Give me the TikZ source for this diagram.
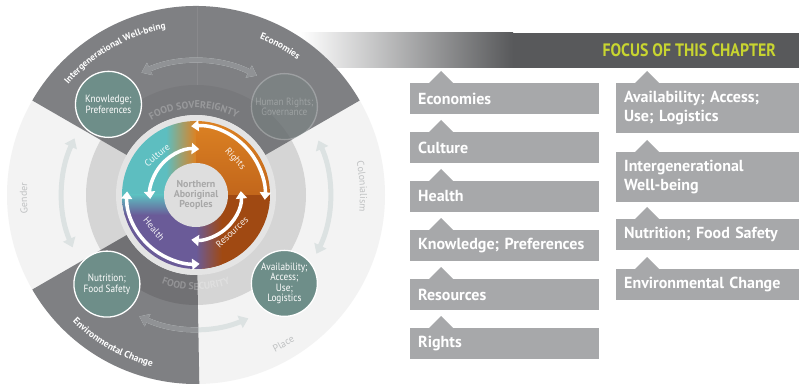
\documentclass[tikz,border=0pt]{standalone}
\usepackage{fontspec}
\setmainfont{PT Sans}
\newfontfamily\condfont[FakeStretch=0.88]{PT Sans}
\usetikzlibrary{arrows.meta,decorations.text}
\definecolor{darkg}{HTML}{7F8083}
\definecolor{lightbg}{HTML}{F3F3F3}
\definecolor{ringg}{HTML}{D5D5D5}
\definecolor{borderg}{HTML}{E4E4E4}
\definecolor{tealc}{HTML}{5DBEC0}
\definecolor{orangec}{HTML}{DC8223}
\definecolor{orangedk}{HTML}{C2661B}
\definecolor{brownc}{HTML}{A04912}
\definecolor{purplec}{HTML}{6A5B98}
\definecolor{circc}{HTML}{6E8E89}
\definecolor{boxg}{HTML}{A7A8AA}
\definecolor{bannerc}{HTML}{58595B}
\definecolor{focusc}{HTML}{C8D530}
\definecolor{arrlight}{HTML}{DCE2E2}
\definecolor{arrdark}{HTML}{909295}
\definecolor{outerlbl}{HTML}{BFC1C2}
\definecolor{centertxt}{HTML}{A8A8A8}
\definecolor{centerdisk}{HTML}{DEDEDE}
\begin{document}
\begin{tikzpicture}[x=1pt,y=1pt,
  warrow/.style={white, line width=3.5pt, {Triangle[width=11pt,length=7.5pt]}-{Triangle[width=11pt,length=7.5pt]}},
  farrow/.style={line width=5pt, {Triangle[width=13pt,length=9pt]}-{Triangle[width=13pt,length=9pt]}},
  topic/.style={circle, fill=circc, draw=white, line width=1.3pt, minimum size=66pt, inner sep=0pt,
    text=white, align=center, font=\condfont\fontsize{10.5}{10.5}\selectfont},
  disklbl/.style={text=white, text opacity=0.9, font=\fontsize{9.5}{10}\selectfont},
  boxst/.style={fill=boxg, text=white, anchor=north west, inner xsep=8pt, inner ysep=0pt,
    align=left, font=\bfseries\fontsize{16}{18.5}\selectfont},
  lbox/.style={boxst, text width=173pt, minimum height=30.5pt},
  rbox/.style={boxst, text width=168pt, minimum height=30.5pt}
]
\useasboundingbox (0,0) rectangle (799,383);
\fill[white] (0,0) rectangle (799,383);

% banner
\shade[left color=white, right color=bannerc] (300,315) rectangle (513,350);
\fill[bannerc] (512.5,315) rectangle (799,350);
\node[anchor=east, text=focusc, inner sep=0pt, font=\condfont\bfseries\fontsize{18}{18}\selectfont] (focus) at (776,333) {FOCUS OF THIS CHAPTER};

\begin{scope}[shift={(196,188)}]
  \fill[lightbg] (0,0) circle[radius=189];
  \fill[ringg] (0,0) circle[radius=110];
  % dark sectors
  \fill[darkg] (30:80) -- (30:189) arc[start angle=30,end angle=150,radius=189] -- (150:80) arc[start angle=150,end angle=30,radius=80] -- cycle;
  \fill[darkg] (210:80) -- (210:189) arc[start angle=210,end angle=271,radius=189] -- (271:80) arc[start angle=271,end angle=210,radius=80] -- cycle;
  \fill[black, opacity=0.05] (30:80) -- (30:110) arc[start angle=30,end angle=150,radius=110] -- (150:80) arc[start angle=150,end angle=30,radius=80] -- cycle;
  \fill[black, opacity=0.11] (210:80) -- (210:110) arc[start angle=210,end angle=271,radius=110] -- (271:80) arc[start angle=271,end angle=210,radius=80] -- cycle;
  \draw[white, opacity=0.08, line width=0.8pt] (1,110) -- (1,188);

  % faded arrows
  \foreach \a/\b in {114/63, 155/203, 24/-26, 245/293}
    \draw[farrow, arrlight] (\a:134) arc[start angle=\a, end angle=\b, radius=134];
  \begin{scope}
    \clip (30:80) -- (30:189) arc[start angle=30,end angle=150,radius=189] -- (150:80) arc[start angle=150,end angle=30,radius=80] -- cycle
          (210:80) -- (210:189) arc[start angle=210,end angle=271,radius=189] -- (271:80) arc[start angle=271,end angle=210,radius=80] -- cycle;
    \foreach \a/\b in {114/63, 245/293}
      \draw[farrow, arrdark] (\a:134) arc[start angle=\a, end angle=\b, radius=134];
  \end{scope}

  % ring texts
  \begin{scope}[fill opacity=0.24, text opacity=0.24]
  \path[decorate, decoration={text along path, text align=center,
     text={|\color{white}\bfseries\fontsize{10}{10}\selectfont|FOOD SOVEREIGNTY}}]
     (125:87) arc[start angle=125, end angle=58, radius=87];
  \path[decorate, decoration={text along path, text align=center,
     text={|\color{white}\bfseries\fontsize{10}{10}\selectfont|FOOD SECURITY}}]
     (237:95) arc[start angle=237, end angle=303, radius=95];
  \end{scope}

  % outer labels
  \path[decorate, decoration={text along path, text align=center,
     text={|\color{white}\bfseries\fontsize{9.2}{9.2}\selectfont|Intergenerational Well-being}}]
     (150:169) arc[start angle=150, end angle=89.4, radius=169];
  \path[decorate, decoration={text along path, text align=center,
     text={|\color{white}\bfseries\fontsize{9.5}{9.5}\selectfont|Economies}}]
     (80:169) arc[start angle=80, end angle=41, radius=169];
  \path[decorate, decoration={text along path, text align=center,
     text={|\color{white}\bfseries\fontsize{9.5}{9.5}\selectfont|Environmental Change}}]
     (212:177) arc[start angle=212, end angle=269.4, radius=177];
  \path[decorate, decoration={text along path, text align=center,
     text={|\color{outerlbl}\fontsize{10}{10}\selectfont|Colonialism}}]
     (22:164) arc[start angle=22, end angle=-16, radius=164];
  \path[decorate, decoration={text along path, text align=center,
     text={|\color{outerlbl}\fontsize{10}{10}\selectfont|Gender}}]
     (200:169) arc[start angle=200, end angle=162, radius=169];
  \path[decorate, decoration={text along path, text align=center,
     text={|\color{outerlbl}\fontsize{10}{10}\selectfont|Place}}]
     (-75:176) arc[start angle=-75, end angle=-44, radius=176];

  % topic circles
  \node[topic] (know) at (134:126) {Knowledge;\\Preferences};
  \node[topic, fill=circc, fill opacity=0.15, draw=white, draw opacity=0.25, text=white, text opacity=0.25] (hrights) at (45:125) {Human Rights;\\Governance};
  \node[topic] (nutri) at (225:126) {Nutrition;\\Food Safety};
  \node[topic] (avail) at (315:125) {Availability;\\Access;\\Use;\\Logistics};

  % inner disk
  \fill[borderg] (0,0) circle[radius=80];
  \begin{scope}
    \clip (0,0) circle[radius=74];
    \fill[tealc] (-75,0) rectangle (-30,75);
    \shade[left color=tealc, right color=orangec] (-30,0) rectangle (0,75);
    \shade[top color=orangec, bottom color=orangedk] (0,0) rectangle (75,75);
    \fill[brownc] (0,-75) rectangle (75,0);
    \shade[left color=purplec, right color=brownc] (0,-75) rectangle (26,0);
    \fill[purplec] (-75,-75) rectangle (0,0);
    \shade[top color=tealc, bottom color=purplec] (-75,-20) rectangle (0,0);
  \end{scope}
  \fill[centerdisk] (0,0) circle[radius=32];
  \node[text=centertxt, align=center, font=\bfseries\fontsize{10}{10}\selectfont] (nap) at (0,0) {Northern\\Aboriginal\\Peoples};

  % white arrows
  \draw[warrow] (94:69) arc[start angle=94, end angle=-4, radius=69];
  \draw[warrow] (177:69) arc[start angle=177, end angle=273, radius=69];
  \draw[warrow] (86:46) arc[start angle=86, end angle=185, radius=46];
  \draw[warrow] (5:45) arc[start angle=5, end angle=-96, radius=45];

  \node[disklbl, rotate=40] (cult) at (-39,40) {Culture};
  \node[disklbl, rotate=-48] (rights) at (39,36) {Rights};
  \node[disklbl, rotate=43] (res) at (36,-37) {Resources};
  \node[disklbl, rotate=-50] (health) at (-42,-34) {Health};
\end{scope}

% left column boxes
\node[lbox] (b1) at (410,300) {Economies};
\node[lbox] (b2) at (410,251) {Culture};
\node[lbox] (b3) at (410,202) {Health};
\node[lbox] (b4) at (410,153) {Knowledge; Preferences};
\node[lbox] (b5) at (410,104) {Resources};
\node[lbox] (b6) at (410,55) {Rights};
% right column boxes
\node[rbox, minimum height=50pt] (r1) at (616,300) {Availability; Access;\\Use; Logistics};
\node[rbox, minimum height=50pt] (r2) at (616,231) {Intergenerational\\Well-being};
\node[rbox] (r3) at (616,164) {Nutrition; Food Safety};
\node[rbox] (r4) at (616,114) {Environmental Change};
\foreach \b in {b1,b2,b3,b4,b5,b6,r1,r2,r3,r4}
  \fill[boxg] ([xshift=19pt]\b.north west) -- ++(12,12) -- ++(12,-12) -- cycle;
\end{tikzpicture}
\end{document}
